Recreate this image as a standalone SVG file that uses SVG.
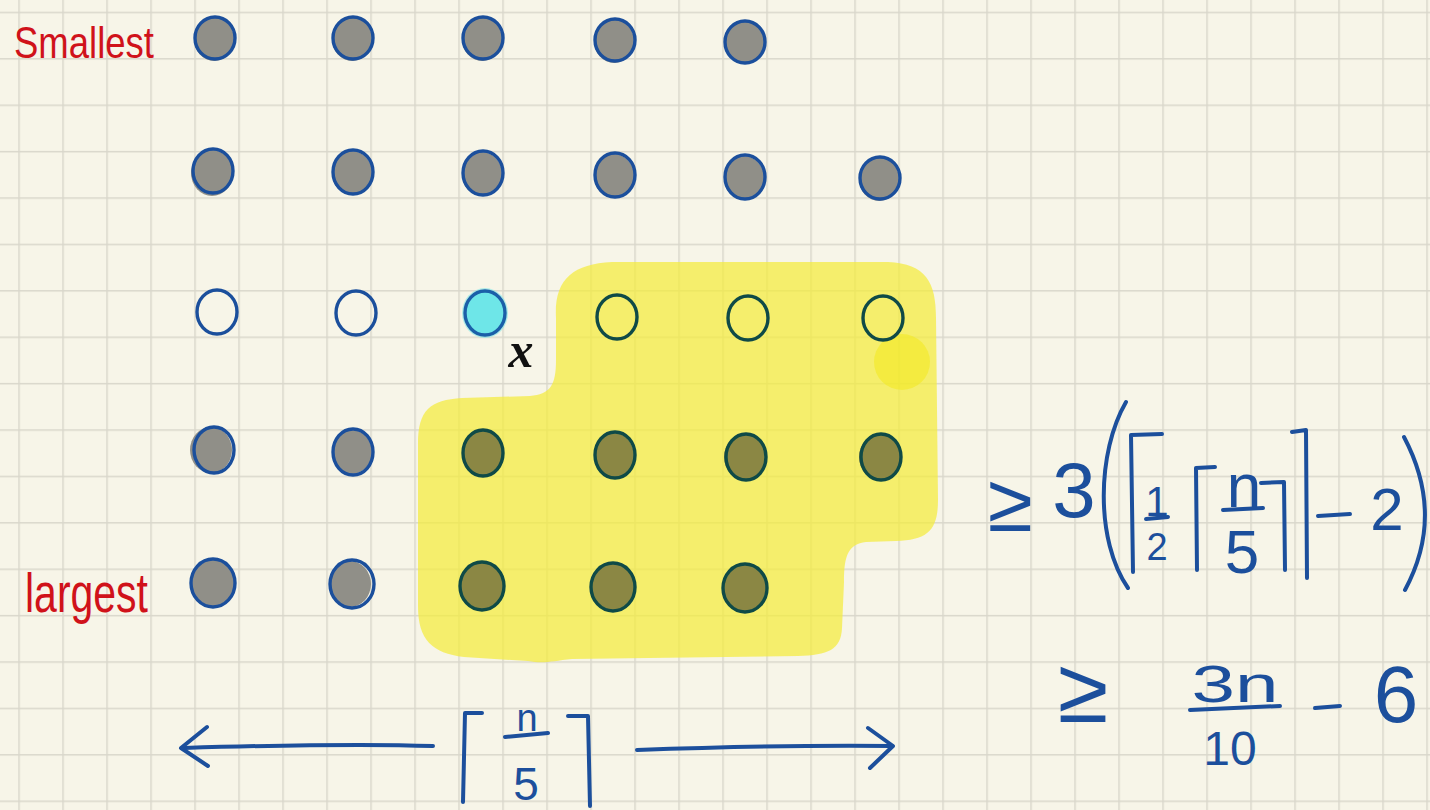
<svg xmlns="http://www.w3.org/2000/svg" width="1430" height="810" viewBox="0 0 1430 810">
<defs>
<pattern id="grid" x="18.3" y="11.7" width="44" height="46.4" patternUnits="userSpaceOnUse">
<path d="M0.75,0 V46.4 M0,0.75 H44" fill="none" stroke="#d9d7cb" stroke-width="1.5"/>
</pattern>
<style>
.g ellipse.f{fill:#908f88}
.g ellipse.s{fill:none;stroke:#1b4f9c;stroke-width:3.4}
.o ellipse.s{fill:none;stroke:#1b4f9c;stroke-width:3.4}
.y ellipse.f{fill:#8b8744}
.y ellipse.s{fill:none;stroke:#0f4a47;stroke-width:3.4}
.yo ellipse.s{fill:none;stroke:#0f4a47;stroke-width:3.4}
.pen{fill:none;stroke:#1c4f9c;stroke-width:4;stroke-linecap:round;stroke-linejoin:round}
.m{fill:#1c4f9c;font-family:"Liberation Sans",Arial,sans-serif;text-anchor:middle}
.lbl{fill:#d0121a;font-family:"Liberation Sans",Arial,sans-serif}
</style>
</defs>
<rect width="1430" height="810" fill="#f7f5e8"/>
<rect width="1430" height="810" fill="url(#grid)"/>

<g id="highlight">
<path d="M556,318 C554,280 572,264 612,262 L888,262 C926,264 936,282 936,318 L938,500 C938,530 928,540 896,541 L866,542 C848,544 844,556 844,582 L842,628 C841,650 828,655 798,656 L572,659 C552,661 544,664 528,661 L464,657 C432,653 418,640 418,606 L418,444 C418,410 430,400 462,398 L530,396 C550,394 556,386 556,360 Z" fill="#f4ec3c" fill-opacity="0.72"/>
<circle cx="902" cy="362" r="28" fill="#f2e91e" fill-opacity="0.55"/>
</g>

<g id="labels">
<text class="lbl" transform="translate(14,58) scale(1,1.25)" font-size="36" textLength="140" lengthAdjust="spacingAndGlyphs">Smallest</text>
<text class="lbl" transform="translate(25,612) scale(1,1.3)" font-size="42" textLength="123" lengthAdjust="spacingAndGlyphs">largest</text>
<text x="521" y="367" font-family="'Liberation Serif',serif" font-style="italic" font-weight="bold" font-size="50" text-anchor="middle" fill="#111">x</text>
</g>

<g id="row1">
<g id="d11" class="g"><ellipse class="f" cx="214" cy="39" rx="20" ry="22"/><ellipse class="s" cx="215" cy="38" rx="20" ry="21"/></g>
<g id="d12" class="g"><ellipse class="f" cx="352" cy="39" rx="20" ry="22"/><ellipse class="s" cx="353" cy="38" rx="20" ry="21"/></g>
<g id="d13" class="g"><ellipse class="f" cx="482" cy="39" rx="20" ry="22"/><ellipse class="s" cx="483" cy="38" rx="20" ry="21"/></g>
<g id="d14" class="g"><ellipse class="f" cx="614" cy="41" rx="20" ry="22"/><ellipse class="s" cx="615" cy="40" rx="20" ry="21"/></g>
<g id="d15" class="g"><ellipse class="f" cx="744" cy="42" rx="20" ry="22"/><ellipse class="s" cx="745" cy="42" rx="20" ry="21"/></g>
</g>

<g id="row2">
<g id="d21" class="g"><ellipse class="f" cx="212" cy="173" rx="21" ry="23"/><ellipse class="s" cx="213" cy="171" rx="20" ry="22"/></g>
<g id="d22" class="g"><ellipse class="f" cx="352" cy="173" rx="20" ry="22"/><ellipse class="s" cx="353" cy="172" rx="20" ry="22"/></g>
<g id="d23" class="g"><ellipse class="f" cx="482" cy="174" rx="20" ry="22"/><ellipse class="s" cx="483" cy="173" rx="20" ry="22"/></g>
<g id="d24" class="g"><ellipse class="f" cx="614" cy="176" rx="20" ry="22"/><ellipse class="s" cx="615" cy="175" rx="20" ry="22"/></g>
<g id="d25" class="g"><ellipse class="f" cx="744" cy="178" rx="20" ry="22"/><ellipse class="s" cx="745" cy="177" rx="20" ry="22"/></g>
<g id="d26" class="g"><ellipse class="f" cx="879" cy="179" rx="20" ry="22"/><ellipse class="s" cx="880" cy="178" rx="20" ry="21"/></g>
</g>

<g id="row3">
<g id="d31" class="o"><ellipse class="s" cx="217" cy="312" rx="20" ry="22"/></g>
<g id="d32" class="o"><ellipse class="s" cx="356" cy="313" rx="20" ry="22"/></g>
<g id="d33"><ellipse cx="485" cy="313" rx="23" ry="25" fill="#7fe6e6" fill-opacity="0.6"/><ellipse cx="485" cy="313" rx="20" ry="22" fill="#6ee6e8" stroke="#1b5fa8" stroke-width="3.4"/></g>
<g id="d34" class="yo"><ellipse class="s" cx="617" cy="317" rx="20" ry="22"/></g>
<g id="d35" class="yo"><ellipse class="s" cx="748" cy="318" rx="20" ry="22"/></g>
<g id="d36" class="yo"><ellipse class="s" cx="883" cy="318" rx="20" ry="22"/></g>
</g>

<g id="row4">
<g id="d41" class="g"><ellipse class="f" cx="211" cy="450" rx="21" ry="23"/><ellipse class="s" cx="214" cy="450" rx="20" ry="23"/></g>
<g id="d42" class="g"><ellipse class="f" cx="352" cy="452" rx="20" ry="22"/><ellipse class="s" cx="353" cy="452" rx="20" ry="23"/></g>
<g id="d43" class="y"><ellipse class="f" cx="483" cy="454" rx="21" ry="23"/><ellipse class="s" cx="483" cy="453" rx="20" ry="23"/></g>
<g id="d44" class="y"><ellipse class="f" cx="614" cy="456" rx="20" ry="23"/><ellipse class="s" cx="615" cy="455" rx="20" ry="23"/></g>
<g id="d45" class="y"><ellipse class="f" cx="745" cy="457" rx="21" ry="23"/><ellipse class="s" cx="746" cy="457" rx="20" ry="23"/></g>
<g id="d46" class="y"><ellipse class="f" cx="880" cy="457" rx="21" ry="23"/><ellipse class="s" cx="881" cy="457" rx="20" ry="23"/></g>
</g>

<g id="row5">
<g id="d51" class="g"><ellipse class="f" cx="213" cy="583" rx="21" ry="23"/><ellipse class="s" cx="213" cy="583" rx="22" ry="24"/></g>
<g id="d52" class="g"><ellipse class="f" cx="350" cy="584" rx="21" ry="23"/><ellipse class="s" cx="352" cy="584" rx="22" ry="24"/></g>
<g id="d53" class="y"><ellipse class="f" cx="482" cy="586" rx="21" ry="23"/><ellipse class="s" cx="482" cy="586" rx="22" ry="24"/></g>
<g id="d54" class="y"><ellipse class="f" cx="613" cy="587" rx="21" ry="23"/><ellipse class="s" cx="613" cy="587" rx="22" ry="24"/></g>
<g id="d55" class="y"><ellipse class="f" cx="745" cy="588" rx="21" ry="23"/><ellipse class="s" cx="745" cy="588" rx="22" ry="24"/></g>
</g>

<g id="connectors">
<path class="pen" d="M182,748 C250,746 350,743 433,746"/>
<path class="pen" d="M207,727 L181,748 L208,766"/>
<path class="pen" d="M637,750 C720,747 800,745 892,746"/>
<path class="pen" d="M868,728 L893,746 L870,768"/>
</g>

<g id="width-label">
<path class="pen" d="M482,713 L465,713 L463,802"/>
<text class="m" x="527" y="731" font-size="38">n</text>
<path class="pen" d="M505,737 L548,733"/>
<text class="m" x="526" y="800" font-size="46">5</text>
<path class="pen" d="M568,716 L588,716 L590,806"/>
</g>

<g id="bound1">
<text class="m" x="1010" y="531" font-size="82">≥</text>
<text class="m" x="1074" y="517" font-size="78">3</text>
<path class="pen" d="M1126,402 C1097,452 1095,540 1128,588"/>
<path class="pen" d="M1162,434 L1131,435 L1133,572"/>
<text class="m" x="1157" y="516" font-size="42">1</text>
<path class="pen" d="M1146,519 L1168,517"/>
<text class="m" x="1157" y="560" font-size="38">2</text>
<path class="pen" d="M1215,467 L1196,468 L1197,570"/>
<text class="m" x="1244" y="507" font-size="62">n</text>
<path class="pen" d="M1223,510 L1263,508"/>
<text class="m" x="1242" y="573" font-size="62">5</text>
<path class="pen" d="M1261,483 L1284,482 L1285,570"/>
<path class="pen" d="M1292,432 L1306,430 L1307,578"/>
<path class="pen" d="M1318,516 L1350,514"/>
<text class="m" x="1387" y="530" font-size="60">2</text>
<path class="pen" d="M1404,437 C1432,490 1432,540 1405,590"/>
</g>

<g id="bound2">
<text class="m" x="1083" y="722" font-size="92">≥</text>
<text class="m" x="1235" y="702" font-size="52" textLength="87" lengthAdjust="spacingAndGlyphs">3n</text>
<path class="pen" d="M1190,710 L1280,706"/>
<text class="m" x="1230" y="765" font-size="48">10</text>
<path class="pen" d="M1315,708 L1340,706"/>
<text class="m" x="1396" y="722" font-size="80">6</text>
</g>
</svg>
